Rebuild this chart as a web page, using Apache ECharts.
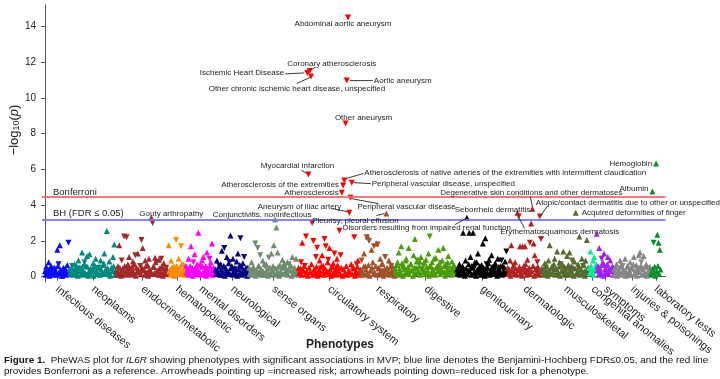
<!DOCTYPE html>
<html><head><meta charset="utf-8">
<script src="https://cdn.jsdelivr.net/npm/echarts@6/dist/echarts.min.js"></script>
<style>html,body{margin:0;padding:0;background:#fff}#c{width:720px;height:379px}</style>
</head><body><div id="c"></div>
<script>
// ---- DATA: signed -log10(p); positive = increased risk (arrow up), negative = reduced risk (arrow down)
const catNames = ['infectious diseases','neoplasms','endocrine/metabolic','hematopoietic','mental disorders','neurological','sense organs','circulatory system','respiratory','digestive','genitourinary','dermatologic','musculoskeletal','congenital anomalies','symptoms','injuries & poisonings','laboratory tests'];
const infectious = [0.3,0.1, 0.55,0.2, -0.15,0.4, 0.8,0.05, 0.2,0.35, 0.6,-0.25, -0.4,0.15, 0.1,0.5, 0.45,0.3, 0.25,0.1, 1.5,0.6, -0.7,0.2, 1.75,0.4, 0.35,0.05, 0.05,0.3, 0.5,0.15, -0.2,0.45, 0.3,0.1, 0.65,0.25, -1.9,0.35];
const neoplasms = [0.4,0.2, 0.15,0.5, -0.6,0.1, 0.3,0.35, 0.7,0.25, 0.2,0.6, -0.35,0.05, 0.9,0.3, 0.5,-0.45, 0.1,0.15, 1.35,0.4, 0.25,0.7, -0.8,0.2, 0.6,0.1, 1.15,0.55, 0.05,0.3, 1.25,0.15, 0.45,-0.25, -0.2,0.45, 0.75,0.05, 0.3,0.6, 1.0,0.35, 0.15,0.2, -0.5,0.5, 0.55,0.1, 0.9,0.4, 0.2,0.25, 0.65,0.75, 1.3,0.15, 0.4,0.3, 2.55,0.5, -0.3,0.2, 0.85,0.05, 0.1,0.45, 0.5,0.3, 1.1,0.6, 1.8,0.1, 0.35,0.25];
const endocrine = [0.3,0.1, 0.6,0.25, 1.75,0.5, 0.2,0.05, -0.9,0.35, 0.45,0.15, -2.25,0.6, 0.1,0.3, -2.2,-0.4, 0.7,0.2, 1.1,0.45, -0.4,0.1, 0.35,0.55, 0.85,0.25, 0.15,0.7, -1.2,0.05, 0.5,0.3, 1.3,0.4, 0.25,-0.2, -0.6,0.15, -2.05,0.5, 1.6,0.35, 0.4,0.1, 0.9,0.6, -0.15,0.25, 0.65,0.05, 1.0,0.4, 0.2,0.3, 3.3,0.15, -3.0,0.55, 0.55,0.2, 1.05,0.8, -0.8,0.35, 0.3,0.1, 0.95,0.45, 0.1,0.25, -1.0,0.6, 0.45,0.05, 0.75,0.3, 0.2,0.5, -0.5,0.15, 0.35,0.2];
const hematopoietic = [1.75,0.3, 0.4,0.1, 0.9,0.5, 0.2,0.35, 0.6,0.05, -0.35,0.25, -2.05,0.6, 0.3,0.15, 1.0,0.45, 0.5,0.2, -1.7,0.7, 0.15,0.35, 0.7,0.1, 0.25,0.4];
const mental = [0.6,0.2, 0.3,0.45, 1.0,0.1, 0.15,0.6, 1.7,0.35, 0.5,0.05, -0.8,0.25, 1.25,0.5, 0.35,0.15, 0.7,0.4, 2.45,0.3, 0.2,0.7, -0.5,0.1, 0.9,0.55, 1.1,0.2, 0.4,0.35, 0.6,0.05, 1.35,0.45, 0.25,0.15, -1.0,0.6, 0.8,0.3, 1.85,0.1, 0.45,0.5, 0.3,0.25];
const neurological = [0.4,0.15, 0.9,0.3, 0.2,0.55, -0.6,0.1, 0.7,0.4, 1.45,0.25, 0.1,0.6, -1.6,0.05, 0.5,0.35, 1.1,0.2, 0.3,0.75, -0.8,0.15, 2.3,0.45, 0.6,0.1, 1.0,0.3, 0.25,0.5, -0.4,0.2, 0.85,0.05, 1.3,0.4, 0.15,0.65, -2.15,0.25, 0.55,0.1, 0.75,0.35, -1.1,0.2, 0.35,0.5, 0.2,0.05, 0.5,0.3];
const senseOrgans = [0.5,0.15, 0.2,0.4, 0.8,0.1, -0.3,0.55, 0.45,0.25, -1.85,0.05, 0.15,0.35, -1.6,0.6, 0.6,0.2, -1.2,0.45, 0.3,0.1, 0.9,0.3, 0.1,0.7, -0.55,0.15, 0.7,0.4, 0.25,0.05, -1.05,0.5, 0.5,0.2, 1.3,0.35, 0.35,0.6, 1.75,0.1, 3.2,0.45, 2.75,0.25, 1.35,0.55, 0.2,0.05, 0.65,0.3, -0.4,0.15, 0.95,0.5, 0.15,0.75, 0.55,0.2, 0.3,0.4, 0.8,0.1, -0.7,0.35, 0.4,0.6, 0.6,0.05, 1.1,0.3, 0.2,0.5, 0.45,0.15, 1.0,0.25, 0.3,0.1];
const circulatory = [0.5,0.2, 0.2,0.45, -0.8,0.1, 1.9,0.35, 0.35,0.6, -0.6,0.15, -2.25,0.3, -11.4,0.05, -5.71,0.5, -11.5,0.25, -11.2,0.7, -3.0,0.1, -2.0,0.4, 0.4,0.2, -1.1,0.55, -1.62,0.05, 0.25,0.35, 0.9,0.15, -0.45,0.6, 1.2,0.3, 0.6,0.1, -2.1,0.45, -1.7,0.25, 0.3,0.8, -0.95,0.15, 1.6,0.4, 0.15,0.05, -0.5,0.55, 0.75,0.2, -1.3,0.35, 0.45,0.1, 1.0,0.65, -0.3,0.3, -2.57,0.15, -1.2,0.5, -4.7,0.05, -5.1,0.4, -5.38,0.2, -8.57,0.6, -10.97,0.1, -14.5,0.35, -3.58,0.25, -4.42,0.7, -5.26,0.15, 0.55,0.45, -2.2,0.05, 0.2,0.3, -0.7,0.55, 0.9,0.2, 0.35,0.1];
const respiratory = [0.4,0.15, -0.9,0.3, 0.2,0.55, 1.3,0.1, 0.6,0.4, -2.2,0.2, 2.25,0.65, -2.0,0.05, 0.35,0.35, 1.5,0.5, 0.8,0.15, -1.7,0.25, 0.15,0.6, 1.85,0.1, -1.8,0.45, 0.5,0.2, 1.0,0.3, -0.3,0.75, 0.7,0.05, 0.25,0.4, -1.1,0.15, 3.53,0.5, 0.45,0.25, 0.9,0.1, 0.2,0.6, -0.6,0.35, 0.55,0.2, 0.3,0.05];
const digestive = [0.5,0.3, 0.2,0.65, 0.8,0.1, 1.35,0.45, 0.3,0.2, 1.7,0.75, -0.5,0.05, 0.6,0.4, 0.15,0.9, 1.0,0.25, 0.4,0.55, 1.6,0.15, -0.25,0.7, 0.7,0.35, 0.35,0.05, 1.2,0.5, 2.1,0.2, 0.5,0.85, -0.9,0.3, 0.25,0.6, 0.85,0.1, 1.1,0.45, 0.45,0.25, -0.6,0.8, 0.3,0.15, 0.95,0.55, 0.15,0.35, 1.3,0.05, -2.25,0.65, 0.55,0.2, 0.8,0.4, -0.35,1.0, 0.2,0.1, 1.05,0.5, 0.6,0.3, 1.5,0.7, 0.4,0.15, -0.75,0.45, 0.9,0.25, 1.6,0.6, 0.25,0.05, 0.7,0.35, -0.45,0.8, 1.15,0.2, 0.3,0.5, 0.5,0.1, 0.85,0.4, -0.2,0.65, 0.6,0.3, 0.35,0.15];
const genitourinary = [0.4,0.2, 0.15,0.5, 0.7,0.1, -0.3,0.35, 0.5,0.6, 2.45,0.25, 0.2,0.05, 0.9,0.45, 3.3,0.15, 0.35,0.7, 2.45,0.3, 1.1,0.1, 0.6,0.5, 2.45,0.2, -0.5,0.8, 0.25,0.05, 0.8,0.4, 1.3,0.25, 0.4,0.6, 0.1,0.35, 0.65,0.15, 1.85,0.5, 0.3,0.05, 2.15,0.45, -0.7,0.2, 0.5,0.75, 0.95,0.1, 0.2,0.35, 1.2,0.55, 0.45,0.15, -0.35,0.65, 0.75,0.25, 0.15,0.05, 1.0,0.4, 0.55,0.2, 0.3,0.6, -0.9,0.1, 0.6,0.3, 0.25,0.5, 0.85,0.15, -1.4,0.35];
const dermatologic = [0.5,0.15, 0.2,0.4, 0.9,0.05, 1.75,0.3, 0.35,0.6, -0.6,0.2, 0.8,0.45, 0.15,0.1, 3.58,0.35, -3.36,0.55, 1.7,0.2, 0.4,0.05, 1.7,0.4, 0.6,0.25, 1.7,0.7, -0.3,0.1, 0.95,0.35, 0.25,0.5, -1.9,0.15, 2.97,0.3, 3.8,0.6, 1.85,0.05, 1.2,0.4, 0.45,0.2, -0.8,0.55, 0.3,0.1, -3.36,0.3, -2.1,0.45];
const musculoskeletal = [0.4,0.1, 0.2,0.45, 0.75,0.2, -0.5,0.6, 0.3,0.05, 0.9,0.35, 1.75,0.15, 0.15,0.5, 0.6,0.25, -0.3,0.7, 1.0,0.1, 0.45,0.4, 1.4,0.2, 0.25,0.55, 0.8,0.05, -0.7,0.3, 0.35,0.65, 1.4,0.15, 0.55,0.4, 0.1,0.25, 1.15,0.5, 0.65,0.1, 1.35,0.35, 0.3,0.6, -0.9,0.2, 0.5,0.05, 0.85,0.45, 3.58,0.15, 0.2,0.3, 0.7,0.55, 2.25,0.1, 0.4,0.4, 1.0,0.2, -0.6,0.65, 0.3,0.05, 0.9,0.35, 2.05,0.15, 0.5,0.25];
const congenital = [0.5,0.2, 1.4,0.6, 0.2,0.35, 0.9,0.1, 1.1,0.45, 0.35,0.7];
const symptoms = [2.4,0.35, 0.6,0.1, 1.6,0.5, 0.3,0.2, -1.0,0.65, 0.8,0.05, 1.3,0.4, 0.2,0.25, -0.5,0.7, 1.1,0.15, 0.4,0.45, 0.9,0.3, -0.3,0.55, 0.55,0.1];
const injuries = [0.4,0.15, 0.2,0.5, 0.7,0.05, -0.3,0.35, 0.5,0.2, 0.9,0.6, 0.15,0.1, -0.6,0.4, 0.35,0.25, 1.0,0.05, 0.25,0.55, 0.6,0.2, -0.4,0.3, 0.8,0.1, 0.1,0.45, 0.45,0.7, 1.1,0.15, -0.2,0.35, 0.65,0.05, 0.3,0.5, 1.2,0.25, 1.35,0.6, -0.8,0.1, 0.5,0.4, 1.15,0.2, 0.2,0.55, 0.7,0.05, -0.45,0.3, 0.3,0.15, 0.55,0.4];
const labTests = [0.2,0.1, 4.76,0.45, -1.9,0.25, 0.55,0.05, 6.33,0.3, 2.35,0.6, 1.9,0.15, 1.5,0.4];
const catValues = [infectious, neoplasms, endocrine, hematopoietic, mental, neurological, senseOrgans, circulatory, respiratory, digestive, genitourinary, dermatologic, musculoskeletal, congenital, symptoms, injuries, labTests];
const yTicks = [0, 2, 4, 6, 8, 10, 12, 14];
const bonferroni = 4.45;
const bhFdr = 3.18;
// annotated phenotypes: category, position within category, label
const annotations = [
  ['circulatory system', 80, 'Abdominal aortic aneurysm'],
  ['circulatory system', 18, 'Coronary atherosclerosis'],
  ['circulatory system', 14, 'Ischemic Heart Disease'],
  ['circulatory system', 20, 'Other chronic ischemic heart disease, unspecified'],
  ['circulatory system', 78, 'Aortic aneurysm'],
  ['circulatory system', 76, 'Other aneurysm'],
  ['circulatory system', 16, 'Myocardial infarction'],
  ['circulatory system', 74, 'Atherosclerosis of native arteries of the extremities with intermittent claudication'],
  ['circulatory system', 86, 'Peripheral vascular disease, unspecified'],
  ['circulatory system', 72, 'Atherosclerosis of the extremities'],
  ['circulatory system', 70, 'Atherosclerosis'],
  ['circulatory system', 84, 'Peripheral vascular disease'],
  ['circulatory system', 82, 'Aneurysm of iliac artery'],
  ['respiratory', 42, 'Pleurisy, pleural effusion'],
  ['sense organs', 42, 'Conjunctivitis, noninfectious'],
  ['endocrine/metabolic', 56, 'Gouty arthropathy'],
  ['genitourinary', 16, 'Disorders resulting from impaired renal function'],
  ['dermatologic', 16, 'Seborrheic dermatitis'],
  ['dermatologic', 18, 'Erythematosquamous dermatosis'],
  ['dermatologic', 40, 'Degenerative skin conditions and other dermatoses'],
  ['dermatologic', 52, 'Atopic/contact dermatitis due to other or unspecified'],
  ['musculoskeletal', 54, 'Acquired deformities of finger'],
  ['laboratory tests', 8, 'Hemoglobin'],
  ['laboratory tests', 2, 'Albumin']
];

// ---- STYLE / LAYOUT
const catColors = ['#0a0aff','#00897e','#a3282a','#ff8c00','#ff00ff','#000080','#6f8c6f','#ff0000','#a0522d','#4b9c0c','#000000','#b22222','#556b2f','#00ee99','#a020f0','#868686','#0a8f2a'];
const FONT = '"Liberation Sans", Arial, sans-serif';
const annLayout = {
 'Abdominal aortic aneurysm': {dx:-5, dy:6, align:'center'},
 'Coronary atherosclerosis': {dx:22, dy:-7, align:'center', line:[1,-1,6,-4]},
 'Ischemic Heart Disease': {dx:-23, dy:0, align:'right', line:[-22,1,-3,0]},
 'Other chronic ischemic heart disease, unspecified': {dx:-14, dy:12, align:'center', line:[-14,7,-1,1]},
 'Aortic aneurysm': {dx:27, dy:0, align:'left', line:[3,0,26,0]},
 'Other aneurysm': {dx:18, dy:-6, align:'center'},
 'Myocardial infarction': {dx:-11, dy:-9, align:'center', line:[-7,-4,-1,-1]},
 'Atherosclerosis of native arteries of the extremities with intermittent claudication': {dx:20, dy:-8, align:'left', line:[2,-2,19,-7]},
 'Peripheral vascular disease, unspecified': {dx:20, dy:1, align:'left', line:[2,0,19,1]},
 'Atherosclerosis of the extremities': {dx:-4, dy:-1, align:'right'},
 'Atherosclerosis': {dx:-3, dy:0, align:'right'},
 'Peripheral vascular disease': {dx:7, dy:9, align:'left', line:[1,1,28,6]},
 'Aneurysm of iliac artery': {dx:-8, dy:-6, align:'right', line:[-17,-4,-2,-1]},
 'Pleurisy, pleural effusion': {dx:-31, dy:7, align:'center', line:[-10,2,-2,0]},
 'Conjunctivitis, noninfectious': {dx:-13, dy:-5, align:'center'},
 'Gouty arthropathy': {dx:20, dy:-4, align:'center'},
 'Disorders resulting from impaired renal function': {dx:-40, dy:10, align:'center', line:[-12,7,-1,1]},
 'Seborrheic dermatitis': {dx:-25, dy:-3, align:'center'},
 'Erythematosquamous dermatosis': {dx:41, dy:15, align:'center', line:[0,1,6,12]},
 'Degenerative skin conditions and other dermatoses': {dx:-1, dy:-16, align:'center', line:[-2,-12,0,-2]},
 'Atopic/contact dermatitis due to other or unspecified': {dx:-4, dy:-14, align:'left', line:[8,-11,1,-1]},
 'Acquired deformities of finger': {dx:6, dy:0, align:'left'},
 'Hemoglobin': {dx:-4, dy:0, align:'right'},
 'Albumin': {dx:-4, dy:-3, align:'right'}
};

const chart = echarts.init(document.getElementById('c'), null, {renderer:'canvas'});
let pos = 0; const centers = []; const catStart = {};
const series = catNames.map((name, c) => {
  const vals = catValues[c];
  catStart[name] = pos;
  const data = vals.map((v, i) => ({value: [pos + i, Math.abs(v)], symbolRotate: v < 0 ? 180 : 0}));
  centers.push(pos + (vals.length - 1) / 2);
  pos += vals.length;
  return {type:'scatter', name, data, symbol:'triangle', symbolSize:6, itemStyle:{color:catColors[c], opacity:1}, silent:true, animation:false, clip:false};
});
series.push({type:'line', data:[], silent:true, animation:false,
  markLine:{silent:true, symbol:'none', animation:false, label:{show:false},
    data:[{yAxis:bonferroni, lineStyle:{color:'#f46a6a', width:2, type:'solid', opacity:0.9}},
          {yAxis:bhFdr, lineStyle:{color:'#7777ff', width:2, type:'solid', opacity:0.9}}]}});
const nameFor = v => { let best = 0; centers.forEach((c, i) => { if (Math.abs(c - v) < Math.abs(centers[best] - v)) best = i; }); return catNames[best]; };

chart.setOption({
  animation:false,
  textStyle:{fontFamily:FONT},
  grid:{left:42, right:48, top:5, bottom:97, containLabel:false},
  xAxis:{type:'value', min:-4.8, max:pos + 7.2,
    axisLine:{show:true, lineStyle:{color:'#555', width:1}},
    axisTick:{show:true, customValues:centers, length:4, lineStyle:{color:'#555'}},
    axisLabel:{customValues:centers, rotate:-39, fontSize:11, color:'#222', margin:6, fontFamily:FONT, formatter:v => nameFor(v)},
    splitLine:{show:false}},
  yAxis:{type:'value', min:-0.3, max:15.2,
    axisLine:{show:true, lineStyle:{color:'#555', width:1}},
    axisTick:{show:true, customValues:yTicks, length:4, lineStyle:{color:'#555'}},
    axisLabel:{customValues:yTicks, fontSize:10, color:'#222', margin:6, fontFamily:FONT},
    splitLine:{show:false}},
  series
});

const g = [];
annotations.forEach(([cat, idx, text]) => {
  const v = catValues[catNames.indexOf(cat)][idx];
  const p = chart.convertToPixel({xAxisIndex:0, yAxisIndex:0}, [catStart[cat] + idx, Math.abs(v)]);
  const L = annLayout[text];
  g.push({type:'text', silent:true, x:p[0] + L.dx, y:p[1] + L.dy, z:10,
    style:{text, fill:'#222', fontSize:8, fontFamily:FONT, align:L.align, textAlign:L.align, verticalAlign:'middle', textVerticalAlign:'middle'}});
  if (L.line) g.push({type:'line', silent:true, z:10, shape:{x1:p[0] + L.line[0], y1:p[1] + L.line[1], x2:p[0] + L.line[2], y2:p[1] + L.line[3]}, style:{stroke:'#222', lineWidth:0.9}});
});
const pb = chart.convertToPixel({yAxisIndex:0}, bonferroni);
const ph = chart.convertToPixel({yAxisIndex:0}, bhFdr);
g.push({type:'text', silent:true, x:53, y:pb - 5, style:{text:'Bonferroni', fill:'#222', fontSize:9.5, fontFamily:FONT, align:'left', verticalAlign:'middle', textAlign:'left', textVerticalAlign:'middle'}});
g.push({type:'text', silent:true, x:53, y:ph - 6, style:{text:'BH (FDR \u2264 0.05)', fill:'#222', fontSize:9.5, fontFamily:FONT, align:'left', verticalAlign:'middle', textAlign:'left', textVerticalAlign:'middle'}});
g.push({type:'text', silent:true, x:14, y:130, rotation:Math.PI / 2,
  style:{text:'\u2212log{s|10}({i|p})', fill:'#222', fontSize:13, fontFamily:FONT, align:'center', verticalAlign:'middle', textAlign:'center', textVerticalAlign:'middle',
    rich:{s:{fontSize:9, fontFamily:FONT, fill:'#222', padding:[5,0,0,0]}, i:{fontSize:13, fontStyle:'italic', fontFamily:FONT, fill:'#222'}}}});
g.push({type:'text', silent:true, x:340, y:345, style:{text:'Phenotypes', fill:'#222', fontSize:12, fontWeight:'bold', fontFamily:FONT, align:'center', verticalAlign:'middle', textAlign:'center', textVerticalAlign:'middle'}});
g.push({type:'text', silent:true, x:4, y:360,
  style:{text:'{b|Figure 1.}  PheWAS plot for {i|IL6R} showing phenotypes with significant associations in MVP; blue line denotes the Benjamini-Hochberg FDR\u22640.05, and the red line', fill:'#111', fontSize:9.9, fontFamily:FONT, align:'left', verticalAlign:'middle', textAlign:'left', textVerticalAlign:'middle',
    rich:{b:{fontWeight:'bold', fontSize:9.9, fontFamily:FONT, fill:'#111'}, i:{fontStyle:'italic', fontSize:9.9, fontFamily:FONT, fill:'#111'}}}});
g.push({type:'text', silent:true, x:4, y:371,
  style:{text:'provides Bonferroni as a reference. Arrowheads pointing up =increased risk; arrowheads pointing down=reduced risk for a phenotype.', fill:'#111', fontSize:9.9, fontFamily:FONT, align:'left', verticalAlign:'middle', textAlign:'left', textVerticalAlign:'middle'}});
chart.setOption({graphic:{elements:g}});
</script></body></html>
